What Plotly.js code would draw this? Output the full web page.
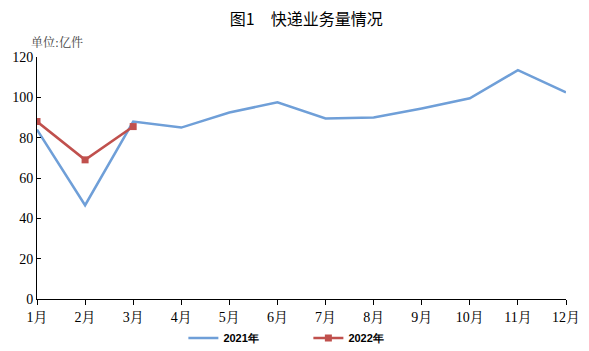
<!DOCTYPE html>
<html><head><meta charset="utf-8">
<script src="https://cdn.plot.ly/plotly-3.0.1.min.js"></script>
<style>body{margin:0;background:#fff}#c{width:589px;height:351px}</style>
</head><body><div id="c"></div>
<script>
const months = ["1月","2月","3月","4月","5月","6月","7月","8月","9月","10月","11月","12月"];
const y2021 = [84, 46.5, 88, 85, 92.5, 97.5, 89.5, 90, 94.5, 99.5, 113.5, 102.5];
const y2022 = [88, 69, 85.5];
const traces = [
 {x: months, y: y2021, name: "2021年", type: "scatter", mode: "lines",
  line: {color: "#6f9fd8", width: 2.5}},
 {x: months.slice(0,3), y: y2022, name: "2022年", type: "scatter", mode: "lines+markers",
  line: {color: "#c0504d", width: 2.5}, marker: {symbol: "square", size: 7, color: "#c0504d"}}
];
const layout = {
 width: 589, height: 351,
 margin: {l: 37, r: 23, t: 57, b: 52},
 paper_bgcolor: "#fff", plot_bgcolor: "#fff",
 title: {text: "图1　快递业务量情况", x: 0.52, xanchor: "center", y: 0.945, yanchor: "middle",
  font: {family: "Noto Sans CJK SC", size: 16, color: "#000"}},
 xaxis: {type: "category", range: [0, 11], showgrid: false, zeroline: false,
  showline: true, linecolor: "#000", linewidth: 1, ticks: "outside", ticklen: 5, tickcolor: "#000",
  tickfont: {family: "Liberation Serif, Noto Serif CJK SC, serif", size: 14, color: "#000"}},
 yaxis: {range: [0, 120], dtick: 20, showgrid: false, zeroline: false,
  showline: true, linecolor: "#000", linewidth: 1, ticks: "inside", ticklen: 4, tickcolor: "#000",
  tickfont: {family: "Liberation Serif, serif", size: 14, color: "#000"}},
 legend: {orientation: "h", x: 0.513, xanchor: "center", yref: "container", y: 0.037, yanchor: "middle",
  font: {family: "Liberation Sans, Arial, sans-serif", size: 11, color: "#000", weight: "bold"},
  entrywidth: 80, itemwidth: 30},
 annotations: [{text: "单位:亿件", xref: "paper", yref: "paper", x: -0.015, y: 1.02, xanchor: "left", yanchor: "bottom",
  showarrow: false, font: {family: "Noto Serif CJK SC, Noto Sans CJK SC", size: 12, color: "#444"}}]
};
Plotly.newPlot("c", traces, layout, {displayModeBar: false});
</script></body></html>
